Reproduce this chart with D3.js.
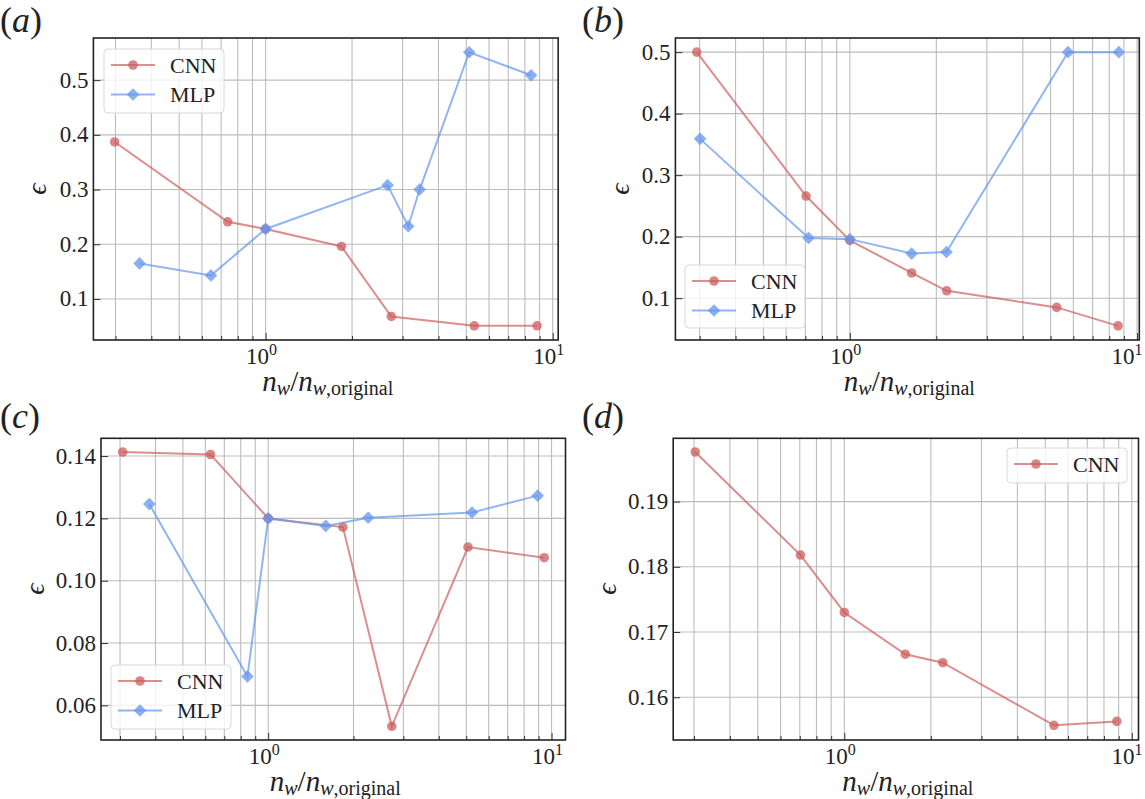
<!DOCTYPE html>
<html><head><meta charset="utf-8">
<script src="https://cdn.jsdelivr.net/npm/d3@7"></script>
<style>
body{margin:0;background:#fff;}
</style></head>
<body>
<svg id="chart" width="1145" height="799"></svg>
<script>
// ---------- data ----------
const seriesNames = ["CNN", "MLP"];
const panelLabels = ["a", "b", "c", "d"];

const xA_cnn = [0.298, 0.738, 1.0, 1.837, 2.74, 5.33, 8.82];
const yA_cnn = [0.387, 0.241, 0.228, 0.196, 0.068, 0.051, 0.051];
const xA_mlp = [0.364, 0.645, 1.0, 2.66, 3.14, 3.44, 5.12, 8.41];
const yA_mlp = [0.165, 0.143, 0.228, 0.308, 0.233, 0.300, 0.551, 0.509];

const xB_cnn = [0.293, 0.704, 1.0, 1.641, 2.174, 5.25, 8.59];
const yB_cnn = [0.500, 0.266, 0.194, 0.141, 0.112, 0.085, 0.055];
const xB_mlp = [0.301, 0.718, 1.0, 1.641, 2.17, 5.75, 8.64];
const yB_mlp = [0.359, 0.198, 0.196, 0.1725, 0.175, 0.500, 0.500];

const xC_cnn = [0.3065, 0.626, 1.0, 1.835, 2.73, 5.07, 9.42];
const yC_cnn = [0.1413, 0.1405, 0.120, 0.1172, 0.0533, 0.1108, 0.1074];
const xC_mlp = [0.3805, 0.845, 1.0, 1.597, 2.253, 5.24, 8.93];
const yC_mlp = [0.1246, 0.0693, 0.120, 0.1176, 0.1202, 0.1219, 0.1273];

const xD_cnn = [0.303, 0.704, 1.0, 1.63, 2.20, 5.36, 8.87];
const yD_cnn = [0.1976, 0.1818, 0.1730, 0.1666, 0.1653, 0.1557, 0.1563];

const yTicksAB = [0.1, 0.2, 0.3, 0.4, 0.5];
const yTicksC = [0.06, 0.08, 0.10, 0.12, 0.14];
const yTicksD = [0.16, 0.17, 0.18, 0.19];
const xMajorTicks = [1, 10];

// ---------- layout / style ----------
const FONT = "'Liberation Serif'";
const W = 1145;
const colors = {CNN: "#cd5c5c", MLP: "#6495ed"};
const panels = [
  {label: "a", box: [93.4, 38, 558.2, 340], xd: [0.2513, 10.45], yd: [0.025, 0.577], yt: yTicksAB, fmt: ".1f",
   series: [["CNN", xA_cnn, yA_cnn], ["MLP", xA_mlp, yA_mlp]], legend: [104, 49, 120, 64], lab: [0, 32], ylab: 46},
  {label: "b", box: [675.4, 38, 1139.3, 340], xd: [0.247, 10.18], yd: [0.032, 0.523], yt: yTicksAB, fmt: ".1f",
   series: [["CNN", xB_cnn, yB_cnn], ["MLP", xB_mlp, yB_mlp]], legend: [685, 265, 120, 63], lab: [582, 32], ylab: 629},
  {label: "c", box: [101, 438.3, 565.5, 740], xd: [0.257, 11.2], yd: [0.0489, 0.1457], yt: yTicksC, fmt: ".2f",
   series: [["CNN", xC_cnn, yC_cnn], ["MLP", xC_mlp, yC_mlp]], legend: [111, 665, 120, 64], lab: [0, 428], ylab: 44},
  {label: "d", box: [673.2, 438.3, 1138.5, 740], xd: [0.254, 10.55], yd: [0.15345, 0.1997], yt: yTicksD, fmt: ".2f",
   series: [["CNN", xD_cnn, yD_cnn]], legend: [1007, 448, 120, 35], lab: [582, 428], ylab: 616}
];

const svg = d3.select("#chart");
const T = (sel) => sel.append("text").attr("font-family", FONT).attr("fill", "#222");

panels.forEach(p => {
  const [x0, y0, x1, y1] = p.box;
  const x = d3.scaleLog().domain(p.xd).range([x0, x1]);
  const y = d3.scaleLinear().domain(p.yd).range([y1, y0]);
  const g = svg.append("g");

  // grid (major + minor x, major y)
  const xAll = x.ticks().filter(t => t >= p.xd[0] && t <= p.xd[1]);
  g.append("g").selectAll("line").data(xAll).join("line")
    .attr("x1", d => x(d)).attr("x2", d => x(d)).attr("y1", y0).attr("y2", y1)
    .attr("stroke", "#bcbcbc").attr("stroke-width", 1.1);
  g.append("g").selectAll("line").data(p.yt).join("line")
    .attr("x1", x0).attr("x2", x1).attr("y1", d => y(d)).attr("y2", d => y(d))
    .attr("stroke", "#bcbcbc").attr("stroke-width", 1.1);

  // axes (ticks inward)
  const xAxis = d3.axisBottom(x).tickValues(xAll).tickSizeInner(-4).tickSizeOuter(0).tickFormat("");
  g.append("g").attr("transform", `translate(0,${y1})`).call(xAxis)
    .call(s => s.select(".domain").remove())
    .call(s => s.selectAll(".tick line").attr("stroke", "#333").attr("y2", d => xMajorTicks.includes(d) ? -7 : -4));
  const yAxis = d3.axisLeft(y).tickValues(p.yt).tickSizeInner(-7).tickSizeOuter(0).tickFormat("");
  g.append("g").attr("transform", `translate(${x0},0)`).call(yAxis)
    .call(s => s.select(".domain").remove())
    .call(s => s.selectAll(".tick line").attr("stroke", "#333"));

  // y tick labels
  p.yt.forEach(v => {
    T(g).attr("x", x0 - 5).attr("y", y(v) + 7.5).attr("text-anchor", "end")
      .attr("font-size", 23).text(d3.format(p.fmt)(v));
  });

  // x tick labels 10^0, 10^1
  xMajorTicks.forEach(t => {
    const cx = Math.min(x(t) - 4, W - 18);
    const tx = T(g).attr("x", cx).attr("y", y1 + 24).attr("text-anchor", "middle").attr("font-size", 23);
    tx.append("tspan").text("10");
    tx.append("tspan").attr("font-size", 16).attr("dy", -9).text(Math.round(Math.log10(t)));
  });

  // frame
  g.append("rect").attr("x", x0).attr("y", y0).attr("width", x1 - x0).attr("height", y1 - y0)
    .attr("fill", "none").attr("stroke", "#222").attr("stroke-width", 1.6);

  // series
  p.series.forEach(([name, xs, ys]) => {
    const pts = xs.map((v, i) => [v, ys[i]]);
    const c = colors[name];
    g.append("path").datum(pts)
      .attr("d", d3.line().x(d => x(d[0])).y(d => y(d[1])))
      .attr("fill", "none").attr("stroke", c).attr("stroke-width", 2).attr("stroke-opacity", 0.7);
    g.append("g").selectAll("path").data(pts).join("path")
      .attr("transform", d => `translate(${x(d[0])},${y(d[1])})` + (name === "MLP" ? " rotate(45)" : ""))
      .attr("d", d3.symbol().type(name === "CNN" ? d3.symbolCircle : d3.symbolSquare).size(name === "CNN" ? 72 : 80))
      .attr("fill", c).attr("fill-opacity", 0.75);
  });

  // legend
  const [lx, ly, lw, lh] = p.legend;
  const lg = g.append("g");
  lg.append("rect").attr("x", lx).attr("y", ly).attr("width", lw).attr("height", lh).attr("rx", 4)
    .attr("fill", "#fff").attr("fill-opacity", 0.8).attr("stroke", "#d8d8d8").attr("stroke-width", 1);
  p.series.forEach(([name], i) => {
    const cy = ly + 16 + i * 29.5;
    const c = colors[name];
    lg.append("line").attr("x1", lx + 7).attr("x2", lx + 51).attr("y1", cy).attr("y2", cy)
      .attr("stroke", c).attr("stroke-width", 2).attr("stroke-opacity", 0.7);
    lg.append("path").attr("transform", `translate(${lx + 29},${cy})` + (name === "MLP" ? " rotate(45)" : ""))
      .attr("d", d3.symbol().type(name === "CNN" ? d3.symbolCircle : d3.symbolSquare).size(name === "CNN" ? 72 : 80))
      .attr("fill", c).attr("fill-opacity", 0.75);
    T(lg).attr("x", lx + 66).attr("y", cy + 7.5).attr("font-size", 22).text(name);
  });

  // axis labels
  const xl = T(g).attr("x", (x0 + x1) / 2 + 2).attr("y", y1 + 51).attr("text-anchor", "middle").attr("font-size", 29);
  xl.append("tspan").attr("font-style", "italic").text("n");
  xl.append("tspan").attr("font-style", "italic").attr("font-size", 20).attr("dy", 4).text("w");
  xl.append("tspan").attr("dy", -4).text("/");
  xl.append("tspan").attr("font-style", "italic").text("n");
  xl.append("tspan").attr("font-style", "italic").attr("font-size", 20).attr("dy", 4).text("w");
  xl.append("tspan").attr("font-size", 20).text(",original");

  T(g).attr("transform", `translate(${p.ylab},${(y0 + y1) / 2}) rotate(-90)`)
    .attr("text-anchor", "middle").attr("font-size", 28).attr("font-style", "italic").text("ϵ");

  // panel label
  const pl = T(g).attr("x", p.lab[0]).attr("y", p.lab[1]).attr("font-size", 36);
  pl.append("tspan").text("(");
  pl.append("tspan").attr("font-style", "italic").text(p.label);
  pl.append("tspan").text(")");
});
</script>
</body></html>
